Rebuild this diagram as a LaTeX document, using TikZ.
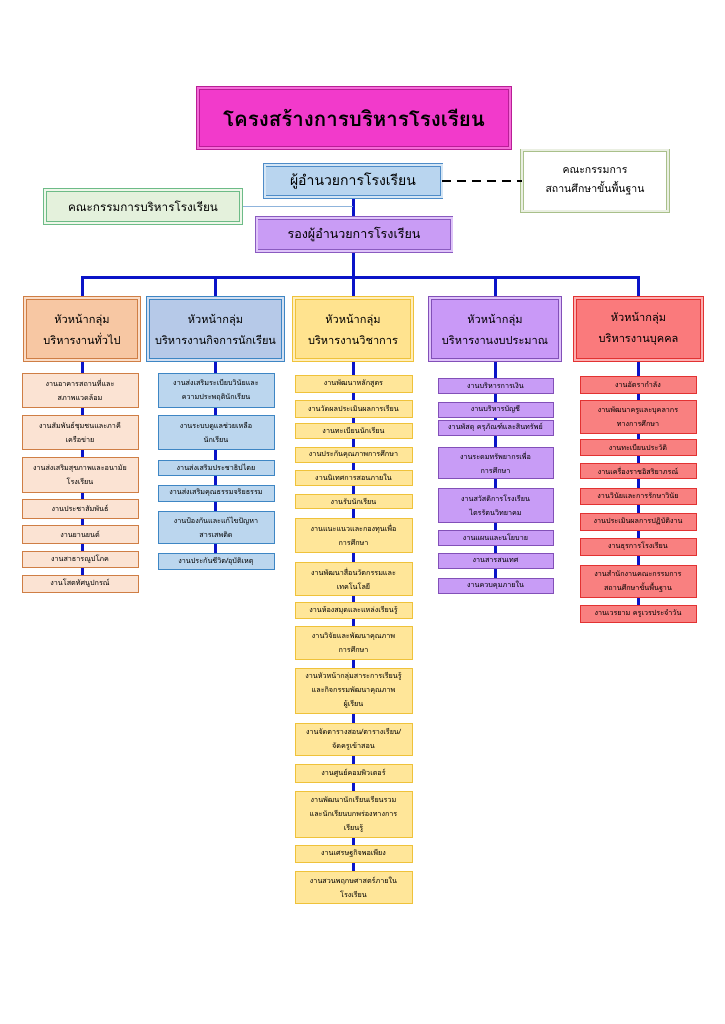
\documentclass[tikz,border=0pt]{standalone}
\usepackage{fontspec}
\setmainfont[Script=Thai]{Loma}
\usetikzlibrary{backgrounds}
\definecolor{titlefill}{HTML}{F23ACB}
\definecolor{titleline}{HTML}{B81E96}
\definecolor{dirfill}{HTML}{B9D5EF}
\definecolor{dirline}{HTML}{4F8CC8}
\definecolor{boardline}{HTML}{A9C08A}
\definecolor{commfill}{HTML}{E4F1DC}
\definecolor{commline}{HTML}{6DBB87}
\definecolor{vicefill}{HTML}{C99CF5}
\definecolor{viceline}{HTML}{8A5BC0}
\definecolor{genhead}{HTML}{F7C7A3}
\definecolor{genline}{HTML}{CF7E45}
\definecolor{gensub}{HTML}{FBE3D3}
\definecolor{stuhead}{HTML}{B6C9E8}
\definecolor{stuline}{HTML}{3E86C4}
\definecolor{stusub}{HTML}{BBD6EE}
\definecolor{acahead}{HTML}{FFE38F}
\definecolor{acaline}{HTML}{EFC23A}
\definecolor{acasub}{HTML}{FFE699}
\definecolor{budhead}{HTML}{C999F7}
\definecolor{budline}{HTML}{8250B8}
\definecolor{budsub}{HTML}{C89CF6}
\definecolor{perhead}{HTML}{FA7A7C}
\definecolor{perline}{HTML}{E23232}
\definecolor{persub}{HTML}{F98080}
\definecolor{trunkblue}{HTML}{0A14C8}
\definecolor{commlink}{HTML}{8FB4DC}
\tikzset{
    bevel/.style={rectangle, align=center, line width=0.8pt, double distance=2pt},
    head/.style={bevel, minimum height=62pt, font=\fontsize{11}{21}\selectfont},
    sub/.style={rectangle, align=center, line width=0.7pt, inner sep=1pt, font=\fontsize{7.2}{14}\selectfont},
    trunk/.style={draw=trunkblue, line width=3pt},
    genitem/.style={sub, fill=gensub, draw=genline, minimum width=116pt},
    stuitem/.style={sub, fill=stusub, draw=stuline, minimum width=116pt},
    acaitem/.style={sub, fill=acasub, draw=acaline, minimum width=117pt},
    buditem/.style={sub, fill=budsub, draw=budline, minimum width=115pt},
    peritem/.style={sub, fill=persub, draw=perline, minimum width=116pt}
}
\begin{document}
\begin{tikzpicture}[x=1pt,y=-1pt]
    \useasboundingbox (0,0) rectangle (724,1024);
    % top
    \node[bevel, fill=titlefill, draw=titleline, double=titlefill!75!white, minimum width=312pt, minimum height=60pt, font=\fontsize{20.5}{26}\selectfont\bfseries] (title) at (354,118) {โครงสร้างการบริหารโรงเรียน};
    \node[bevel, fill=dirfill, draw=dirline, double=dirfill!60!white, minimum width=177pt, minimum height=32pt, font=\fontsize{14}{16}\selectfont] (dir) at (353,181) {ผู้อำนวยการโรงเรียน};
    \node[bevel, fill=white, draw=boardline, double=boardline!25!white, minimum width=146pt, minimum height=61pt, font=\fontsize{10.5}{19}\selectfont] (board) at (595,181) {คณะกรรมการ\\สถานศึกษาขั้นพื้นฐาน};
    \node[bevel, fill=commfill, draw=commline, double=commfill!60!white, minimum width=196pt, minimum height=33pt, font=\fontsize{11.7}{13}\selectfont] (comm) at (143,206.5) {คณะกรรมการบริหารโรงเรียน};
    \node[bevel, fill=vicefill, draw=viceline, double=vicefill!60!white, minimum width=195pt, minimum height=33pt, font=\fontsize{12.5}{15}\selectfont] (vice) at (354,234.5) {รองผู้อำนวยการโรงเรียน};
    % group heads
    \node[head, fill=genhead, draw=genline, double=genhead!60!white, minimum width=114pt] (gen) at (82,329) {หัวหน้ากลุ่ม\\บริหารงานทั่วไป};
    \node[head, fill=stuhead, draw=stuline, double=stuhead!60!white, minimum width=135pt] (stu) at (215.5,329) {หัวหน้ากลุ่ม\\บริหารงานกิจการนักเรียน};
    \node[head, fill=acahead, draw=acaline, double=acahead!60!white, minimum width=118pt] (aca) at (353,329) {หัวหน้ากลุ่ม\\บริหารงานวิชาการ};
    \node[head, fill=budhead, draw=budline, double=budhead!60!white, minimum width=130pt] (bud) at (495,329) {หัวหน้ากลุ่ม\\บริหารงานงบประมาณ};
    \node[head, fill=perhead, draw=perline, double=perhead!60!white, minimum width=127pt] (per) at (638.5,329) {หัวหน้ากลุ่ม\\บริหารงานบุคคล};
    \coordinate (bus) at (353,277);
    % general
    \node[genitem, minimum height=34pt] (gen1) at (80,390) {งานอาคารสถานที่และ\\สภาพแวดล้อม};
    \node[genitem, minimum height=34pt] (gen2) at (80,432) {งานสัมพันธ์ชุมชนและภาคี\\เครือข่าย};
    \node[genitem, minimum height=35pt] (gen3) at (80,474.5) {งานส่งเสริมสุขภาพและอนามัย\\โรงเรียน};
    \node[genitem, minimum height=19pt] (gen4) at (80,508.5) {งานประชาสัมพันธ์};
    \node[genitem, minimum height=18pt] (gen5) at (80,534) {งานยานยนต์};
    \node[genitem, minimum height=16pt] (gen6) at (80,559) {งานสาธารณูปโภค};
    \node[genitem, minimum height=17pt] (gen7) at (80,583.5) {งานโสตทัศนูปกรณ์};
    % student affairs
    \node[stuitem, minimum height=34pt] (stu1) at (216,390) {งานส่งเสริมระเบียบวินัยและ\\ความประพฤตินักเรียน};
    \node[stuitem, minimum height=34pt] (stu2) at (216,432) {งานระบบดูแลช่วยเหลือ\\นักเรียน};
    \node[stuitem, minimum height=15pt] (stu3) at (216,467.5) {งานส่งเสริมประชาธิปไตย};
    \node[stuitem, minimum height=16pt] (stu4) at (216,493) {งานส่งเสริมคุณธรรมจริยธรรม};
    \node[stuitem, minimum height=32pt] (stu5) at (216,527) {งานป้องกันและแก้ไขปัญหา\\สารเสพติด};
    \node[stuitem, minimum height=16pt] (stu6) at (216,561) {งานประกันชีวิต/อุบัติเหตุ};
    % academic
    \node[acaitem, minimum height=17pt] (aca1) at (353.5,383.5) {งานพัฒนาหลักสูตร};
    \node[acaitem, minimum height=17pt] (aca2) at (353.5,408.5) {งานวัดผลประเมินผลการเรียน};
    \node[acaitem, minimum height=15pt] (aca3) at (353.5,430.5) {งานทะเบียนนักเรียน};
    \node[acaitem, minimum height=15pt] (aca4) at (353.5,454.5) {งานประกันคุณภาพการศึกษา};
    \node[acaitem, minimum height=15pt] (aca5) at (353.5,477.5) {งานนิเทศการสอนภายใน};
    \node[acaitem, minimum height=14pt] (aca6) at (353.5,501) {งานรับนักเรียน};
    \node[acaitem, minimum height=34pt] (aca7) at (353.5,535) {งานแนะแนวและกองทุนเพื่อ\\การศึกษา};
    \node[acaitem, minimum height=33pt] (aca8) at (353.5,578.5) {งานพัฒนาสื่อนวัตกรรมและ\\เทคโนโลยี};
    \node[acaitem, minimum height=16pt] (aca9) at (353.5,610) {งานห้องสมุดและแหล่งเรียนรู้};
    \node[acaitem, minimum height=33pt] (aca10) at (353.5,642.5) {งานวิจัยและพัฒนาคุณภาพ\\การศึกษา};
    \node[acaitem, minimum height=45pt] (aca11) at (353.5,690.5) {งานหัวหน้ากลุ่มสาระการเรียนรู้\\และกิจกรรมพัฒนาคุณภาพ\\ผู้เรียน};
    \node[acaitem, minimum height=32pt] (aca12) at (353.5,739) {งานจัดตารางสอน/ตารางเรียน/\\จัดครูเข้าสอน};
    \node[acaitem, minimum height=18pt] (aca13) at (353.5,773) {งานศูนย์คอมพิวเตอร์};
    \node[acaitem, minimum height=46pt] (aca14) at (353.5,814) {งานพัฒนานักเรียนเรียนรวม\\และนักเรียนบกพร่องทางการ\\เรียนรู้};
    \node[acaitem, minimum height=17pt] (aca15) at (353.5,853.5) {งานเศรษฐกิจพอเพียง};
    \node[acaitem, minimum height=32pt] (aca16) at (353.5,887) {งานสวนพฤกษศาสตร์ภายใน\\โรงเรียน};
    % budget
    \node[buditem, minimum height=15pt] (bud1) at (495.5,385.5) {งานบริหารการเงิน};
    \node[buditem, minimum height=15pt] (bud2) at (495.5,409.5) {งานบริหารบัญชี};
    \node[buditem, minimum height=15pt] (bud3) at (495.5,427.5) {งานพัสดุ ครุภัณฑ์และสินทรัพย์};
    \node[buditem, minimum height=31pt] (bud4) at (495.5,462.5) {งานระดมทรัพยากรเพื่อ\\การศึกษา};
    \node[buditem, minimum height=34pt] (bud5) at (495.5,505) {งานสวัสดิการโรงเรียน\\ไตรรัตนวิทยาคม};
    \node[buditem, minimum height=15pt] (bud6) at (495.5,537.5) {งานแผนและนโยบาย};
    \node[buditem, minimum height=15pt] (bud7) at (495.5,560.5) {งานสารสนเทศ};
    \node[buditem, minimum height=15pt] (bud8) at (495.5,585.5) {งานควบคุมภายใน};
    % personnel
    \node[peritem, minimum height=17pt] (per1) at (638,384.5) {งานอัตรากำลัง};
    \node[peritem, minimum height=33pt] (per2) at (638,416.5) {งานพัฒนาครูและบุคลากร\\ทางการศึกษา};
    \node[peritem, minimum height=16pt] (per3) at (638,447) {งานทะเบียนประวัติ};
    \node[peritem, minimum height=15pt] (per4) at (638,470.5) {งานเครื่องราชอิสริยาภรณ์};
    \node[peritem, minimum height=16pt] (per5) at (638,496) {งานวินัยและการรักษาวินัย};
    \node[peritem, minimum height=17pt] (per6) at (638,521.5) {งานประเมินผลการปฏิบัติงาน};
    \node[peritem, minimum height=17pt] (per7) at (638,546.5) {งานธุรการโรงเรียน};
    \node[peritem, minimum height=32pt] (per8) at (638,581) {งานสำนักงานคณะกรรมการ\\สถานศึกษาขั้นพื้นฐาน};
    \node[peritem, minimum height=17pt] (per9) at (638,613.5) {งานเวรยาม ครูเวรประจำวัน};
    % connectors
    \begin{scope}[on background layer]
        \draw[trunk] (dir.south) -- (bus);
        \draw[draw=commlink, line width=1pt] (comm.east) -- (comm.east -| dir.south);
        \draw[trunk] (gen.north) |- (bus) -| (per.north);
        \draw[trunk] (stu.north) -- (stu.north |- bus);
        \draw[trunk] (aca.north) -- (aca.north |- bus);
        \draw[trunk] (bud.north) -- (bud.north |- bus);
        \draw[trunk] (gen.south) -- (gen.south |- gen7.north);
        \draw[trunk] (stu.south) -- (stu.south |- stu6.north);
        \draw[trunk] (aca.south) -- (aca.south |- aca16.north);
        \draw[trunk] (bud.south) -- (bud.south |- bud8.north);
        \draw[trunk] (per.south) -- (per.south |- per9.north);
    \end{scope}
    \draw[line width=2.5pt, dash pattern=on 9pt off 6pt] (dir.east) -- (board.west);
\end{tikzpicture}
\end{document}
